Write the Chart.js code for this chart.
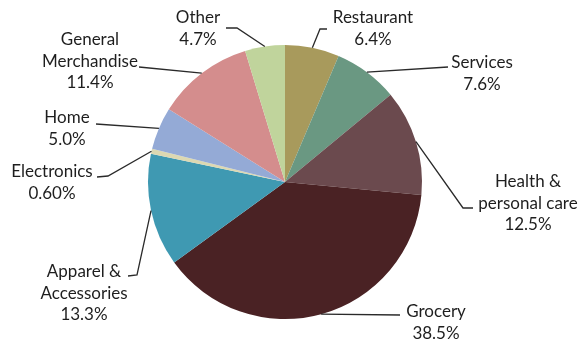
<!DOCTYPE html>
<html>
<head>
<meta charset="utf-8">
<script src="https://cdn.jsdelivr.net/npm/chart.js@4.4.0/dist/chart.umd.min.js"></script>
<style>
html,body{margin:0;padding:0;background:#fff;}
#wrap{position:relative;width:581px;height:342px;}
</style>
</head>
<body>
<div id="wrap"><canvas id="c" width="581" height="342"></canvas></div>
<script>
// ---- data ----
const categories = ["Restaurant", "Services", "Health &\npersonal care", "Grocery", "Apparel &\nAccessories", "Electronics", "Home", "General\nMerchandise", "Other"];
const shares = [6.4, 7.6, 12.5, 38.5, 13.3, 0.6, 5.0, 11.4, 4.7];
const shareLabels = ["6.4%", "7.6%", "12.5%", "38.5%", "13.3%", "0.60%", "5.0%", "11.4%", "4.7%"];

// ---- styles / layout ----
const colors = ["#a89a5c", "#6a9882", "#6b4a4e", "#4a2224", "#3f99b2", "#dcd8b2", "#94aad6", "#d48d8d", "#c0d49c"];
// text center x, first-line y, and leader-line bend points (after the arc point)
const labelLayout = [
  {x: 373, y: 18, pts: [[320, 29], [327, 29]]},
  {x: 482, y: 63, pts: [[448, 67]]},
  {x: 528, y: 182, pts: [[463, 208], [473, 208]]},
  {x: 436, y: 312, pts: [[400, 315]]},
  {x: 84, y: 272, pts: [[137, 275], [128, 276]]},
  {x: 52, y: 172, pts: [[108, 176], [97, 177]]},
  {x: 67, y: 118, pts: [[96, 124]]},
  {x: 90, y: 40, pts: [[139, 67]]},
  {x: 198, y: 18, pts: [[237, 28], [226, 28]]}
];
const lineHeight = 21.5;
const fontSpec = "17px Lato, 'Open Sans', sans-serif";

const leaderPlugin = {
  id: 'leaders',
  afterDatasetsDraw(chart) {
    const ctx = chart.ctx;
    const meta = chart.getDatasetMeta(0);
    ctx.save();
    meta.data.forEach((arc, i) => {
      const p = arc.getProps(['x', 'y', 'startAngle', 'endAngle', 'outerRadius'], true);
      const mid = (p.startAngle + p.endAngle) / 2;
      const sx = p.x + Math.cos(mid) * p.outerRadius;
      const sy = p.y + Math.sin(mid) * p.outerRadius;
      const L = labelLayout[i];
      ctx.beginPath();
      ctx.moveTo(sx, sy);
      L.pts.forEach(pt => ctx.lineTo(pt[0], pt[1]));
      ctx.strokeStyle = '#2a2a2a';
      ctx.lineWidth = 1.3;
      ctx.stroke();
      const lines = categories[i].split('\n').concat([shareLabels[i]]);
      ctx.fillStyle = '#1e1e1e';
      ctx.font = fontSpec;
      ctx.textAlign = 'center';
      ctx.textBaseline = 'middle';
      lines.forEach((t, k) => ctx.fillText(t, L.x, L.y + k * lineHeight));
    });
    ctx.restore();
  }
};

new Chart(document.getElementById('c'), {
  type: 'pie',
  data: {
    labels: categories,
    datasets: [{
      data: shares,
      backgroundColor: colors,
      borderWidth: 0
    }]
  },
  options: {
    responsive: false,
    animation: false,
    layout: {padding: {left: 100, right: 111, top: 45, bottom: 23}},
    plugins: {legend: {display: false}, tooltip: {enabled: false}}
  },
  plugins: [leaderPlugin]
});
</script>
</body>
</html>
